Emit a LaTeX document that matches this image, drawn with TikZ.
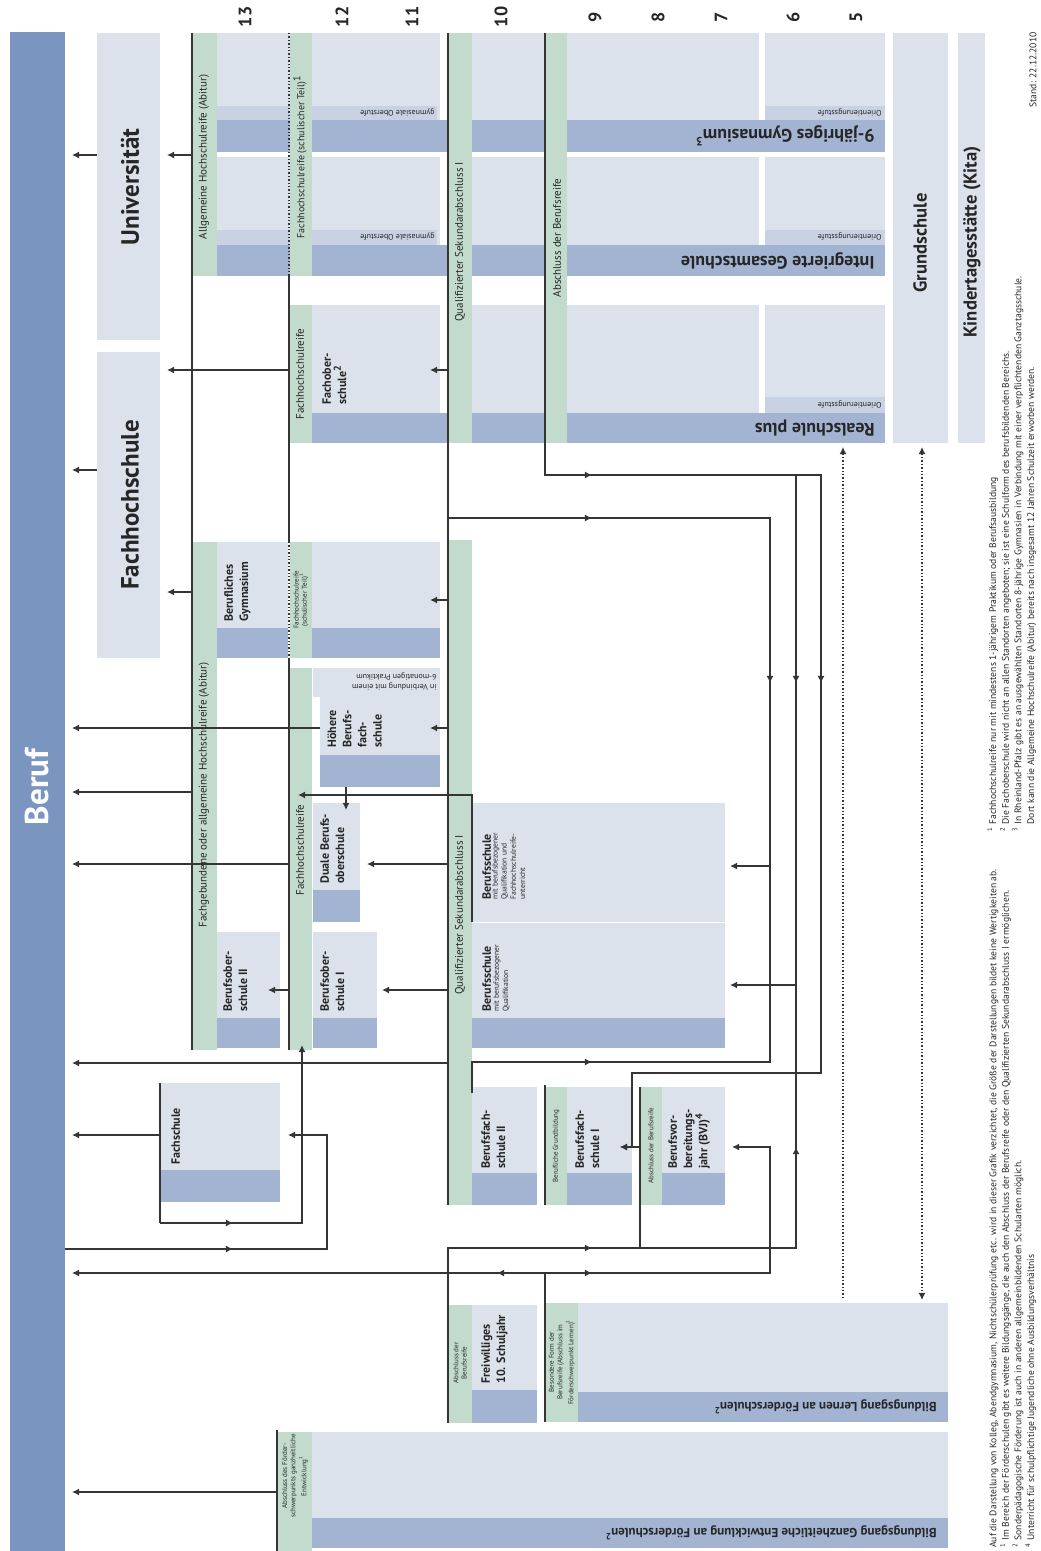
\documentclass[tikz,border=0pt]{standalone}
\usepackage{fontspec}
\setmainfont{PT Sans}
\usetikzlibrary{arrows.meta}

\definecolor{berufblue}{HTML}{7A96C0}
\definecolor{boxlight}{HTML}{DCE2EB}
\definecolor{boxdark}{HTML}{A3B4D2}
\definecolor{boxtab}{HTML}{C8D2E2}
\definecolor{stripgreen}{HTML}{C2DBCC}
\definecolor{linegray}{HTML}{353535}
\definecolor{textgray}{HTML}{262626}

\newcommand{\smalltxt}{\fontsize{3.8}{4.6}\selectfont\mdseries}

\tikzset{
  light/.style={fill=boxlight},
  dark/.style={fill=boxdark},
  tab/.style={fill=boxtab},
  strip/.style={fill=stripgreen},
  link/.style={draw=linegray, line width=0.7pt},
  arr/.style={link, -{Latex[length=3.6pt,width=3.6pt]}},
  dotlink/.style={draw=linegray, line width=0.7pt, densely dotted},
  big/.style={rotate=90, text=textgray, font=\fontsize{12.5}{14}\selectfont\bfseries},
  mid/.style={rotate=90, text=textgray, font=\fontsize{9.3}{11}\selectfont\bfseries},
  band/.style={rotate=180, anchor=west, inner sep=0pt, text=textgray, font=\fontsize{9}{11}\selectfont\bfseries},
  fband/.style={rotate=180, anchor=west, inner sep=0pt, text=textgray, font=\fontsize{6.5}{8}\selectfont\bfseries},
  stripl/.style={rotate=90, inner sep=0pt, text=textgray, font=\fontsize{5.5}{6.5}\selectfont},
  tinyl/.style={rotate=90, inner sep=0pt, align=center, text=textgray, font=\fontsize{3.5}{4.2}\selectfont},
  tabl/.style={rotate=180, anchor=west, inner sep=0pt, align=left, text=textgray, font=\fontsize{4}{5}\selectfont},
  boxl/.style={rotate=90, anchor=north west, inner sep=0pt, align=left, text=textgray, font=\fontsize{6}{7.6}\selectfont\bfseries},
  grade/.style={rotate=90, text=textgray, font=\fontsize{9}{10}\selectfont\bfseries},
  note/.style={rotate=90, anchor=north west, inner sep=0pt, align=left, text=textgray, font=\fontsize{4.8}{6.3}\selectfont},
}

\begin{document}
\begin{tikzpicture}[x=0.5pt, y=-0.5pt]

    % Page frame with the proportions of the chart
    \useasboundingbox (0,0) rectangle (1040,1551);
    \clip (0,0) rectangle (1040,1551);

    % Beruf bar along the left edge
    \fill[berufblue] (10,32) rectangle (65,1551);
    \node[rotate=90, text=white, font=\fontsize{16.5}{18}\selectfont\bfseries] (beruf) at (37,787) {Beruf};

    % Hochschulen
    \fill[light] (97,33) rectangle (160,340);
    \fill[light] (97,352) rectangle (160,658);
    \node[big] (uni) at (130,187) {Universität};
    \node[big] (fhs) at (130,505) {Fachhochschule};

    % Grade numbers along the top
    \foreach \g/\x in {13/245,12/342,11/412,10/501,9/595,8/658,7/721,6/793,5/856}
        \node[grade] (grade\g) at (\x,17) {\g};

    % Gymnasium and Integrierte Gesamtschule rows
    \foreach \ya/\yt/\yb/\ye in {33/106/120/152, 157/230/245/276}{
        \fill[light] (217,\ya) rectangle (440,\yb);
        \fill[tab] (217,\yt) rectangle (437,\yb);
        \fill[dark] (217,\yb) rectangle (447,\ye);
        \fill[light] (472,\ya) rectangle (545,\yb);
        \fill[dark] (472,\yb) rectangle (545,\ye);
        \fill[light] (567,\ya) rectangle (759,\yb);
        \fill[light] (765,\ya) rectangle (885,\yb);
        \fill[tab] (765,\yt) rectangle (885,\yb);
        \fill[dark] (567,\yb) rectangle (885,\ye);
    }

    % Realschule plus row with Fachoberschule
    \fill[light] (312,305) rectangle (440,413);
    \fill[dark] (312,413) rectangle (447,443);
    \fill[light] (472,305) rectangle (545,413);
    \fill[dark] (472,413) rectangle (545,443);
    \fill[light] (567,305) rectangle (759,413);
    \fill[light] (765,305) rectangle (885,413);
    \fill[tab] (765,397) rectangle (885,413);
    \fill[dark] (567,413) rectangle (885,443);

    % Green strips for the school leaving certificates (top part)
    \fill[strip] (193,33) rectangle (217,276);
    \fill[strip] (290,33) rectangle (312,276);
    \fill[strip] (290,305) rectangle (312,443);
    \fill[strip] (449,33) rectangle (472,443);
    \fill[strip] (546,33) rectangle (567,443);

    % Grundschule and Kita
    \fill[light] (893,33) rectangle (948,443);
    \fill[light] (958,33) rectangle (985,443);

    % Berufliches Gymnasium
    \fill[strip] (193,542) rectangle (217,1050);
    \fill[light] (217,542) rectangle (288,628);
    \fill[dark] (217,628) rectangle (288,658);
    \fill[strip] (290,542) rectangle (312,658);
    \fill[light] (312,542) rectangle (440,628);
    \fill[dark] (312,628) rectangle (440,658);
    \fill[strip] (290,668) rectangle (312,1050);

    % Hoehere Berufsfachschule
    \fill[light] (313,668) rectangle (440,697);
    \fill[light] (320,697) rectangle (440,755);
    \fill[dark] (320,755) rectangle (440,787);

    % Duale Berufsoberschule, Berufsoberschule II and I
    \fill[light] (313,803) rectangle (360,890);
    \fill[dark] (313,890) rectangle (360,922);
    \fill[light] (217,932) rectangle (280,1018);
    \fill[dark] (217,1018) rectangle (280,1048);
    \fill[light] (313,932) rectangle (377,1018);
    \fill[dark] (313,1018) rectangle (377,1048);

    % Berufsschule
    \fill[strip] (449,540) rectangle (472,1205);
    \fill[light] (472,803) rectangle (725,1018);
    \draw[white, line width=0.4pt] (472,922) -- (725,922);
    \fill[dark] (472,1018) rectangle (725,1048);

    % Fachschule
    \fill[light] (161,1083) rectangle (280,1170);
    \fill[dark] (161,1170) rectangle (280,1202);

    % Berufsfachschule II, I and BVJ
    \fill[light] (472,1087) rectangle (537,1173);
    \fill[dark] (472,1173) rectangle (537,1205);
    \fill[strip] (546,1087) rectangle (567,1205);
    \fill[light] (567,1087) rectangle (632,1173);
    \fill[dark] (567,1173) rectangle (632,1205);
    \fill[strip] (641,1087) rectangle (662,1205);
    \fill[light] (662,1087) rectangle (725,1173);
    \fill[dark] (662,1173) rectangle (725,1205);

    % Freiwilliges 10. Schuljahr
    \fill[strip] (449,1305) rectangle (472,1423);
    \fill[light] (472,1305) rectangle (537,1390);
    \fill[dark] (472,1390) rectangle (537,1423);

    % Foerderschulen
    \fill[strip] (546,1303) rectangle (578,1422);
    \fill[light] (578,1303) rectangle (948,1392);
    \fill[dark] (578,1392) rectangle (948,1422);
    \fill[strip] (278,1432) rectangle (312,1551);
    \fill[light] (312,1432) rectangle (948,1518);
    \fill[dark] (312,1518) rectangle (948,1548);

    % Coordinates of the lines
    \coordinate (berufE) at (72,0);
    \coordinate (abiT) at (192,33);
    \coordinate (abiB) at (192,1050);
    \coordinate (fhrT) at (289,33);
    \coordinate (fhrM1) at (289,276);
    \coordinate (fhrM2) at (289,542);
    \coordinate (fhrM3) at (289,658);
    \coordinate (fhrB) at (289,1050);
    \coordinate (sekT) at (448,33);
    \coordinate (sekB) at (448,1205);
    \coordinate (brT) at (545,33);
    \coordinate (brC) at (545,475);

    \coordinate (uniOut) at (97,155);
    \coordinate (uniIn) at (167,155);
    \coordinate (fhsOut) at (97,470);
    \coordinate (fhsIn1) at (167,370);
    \coordinate (fhsIn2) at (167,592);
    \coordinate (fosIn) at (430,370);
    \coordinate (bgymIn) at (430,600);
    \coordinate (hbfsIn) at (430,728);
    \coordinate (hbfsOut) at (320,728);
    \coordinate (hbfsDown) at (346,787);
    \coordinate (dbosIn) at (346,810);
    \coordinate (dbosIn2) at (367,864);
    \coordinate (abiOut) at (192,792);
    \coordinate (fhrOut) at (289,864);
    \coordinate (bos2In) at (268,990);
    \coordinate (bos1In) at (382,990);
    \coordinate (bsUp) at (472,922);
    \coordinate (bsCorner) at (472,795);
    \coordinate (fhrIn) at (298,795);
    \coordinate (bsIn1) at (730,866);
    \coordinate (bsIn2) at (730,985);

    \coordinate (m475) at (592,475);
    \coordinate (r475R) at (821,475);
    \coordinate (r475B) at (796,475);
    \coordinate (m821) at (821,683);
    \coordinate (r821B) at (821,1073);
    \coordinate (r632T) at (632,1073);
    \coordinate (r632B) at (632,1147);
    \coordinate (bfs1In) at (620,1147);
    \coordinate (m796a) at (796,683);
    \coordinate (m796b) at (796,1147);
    \coordinate (r796B) at (796,1248);
    \coordinate (fw1248) at (448,1248);
    \coordinate (m1248) at (592,1248);
    \coordinate (fwB) at (448,1423);

    \coordinate (s518) at (448,518);
    \coordinate (m518) at (592,518);
    \coordinate (r518R) at (770,518);
    \coordinate (m770) at (770,683);
    \coordinate (r770B) at (770,1062);
    \coordinate (m1062) at (592,1062);
    \coordinate (bfs2T) at (472,1062);
    \coordinate (bfs2B) at (472,1093);
    \coordinate (sekOut) at (448,1063);

    \coordinate (bvjT) at (640,1087);
    \coordinate (bvjB) at (640,1248);
    \coordinate (lernJ) at (545,1273);
    \coordinate (lernB) at (545,1422);
    \coordinate (m1273a) at (497,1273);
    \coordinate (m1273b) at (592,1273);
    \coordinate (r770L) at (770,1273);
    \coordinate (r770M) at (770,1147);
    \coordinate (bvjIn) at (732,1147);
    \coordinate (bfs1T) at (545,1085);
    \coordinate (bfs1B) at (545,1205);

    \coordinate (fsT) at (160,1083);
    \coordinate (fsC) at (160,1223);
    \coordinate (fsOut) at (160,1135);
    \coordinate (mfs) at (233,1223);
    \coordinate (fsUpB) at (302,1223);
    \coordinate (fsUpT) at (302,1045);
    \coordinate (berufFs) at (65,1249);
    \coordinate (mbf) at (233,1249);
    \coordinate (fsLoopB) at (327,1249);
    \coordinate (fsLoopT) at (327,1135);
    \coordinate (fsIn) at (288,1135);

    \coordinate (gzT) at (277,1430);
    \coordinate (gzB) at (277,1551);
    \coordinate (gzOut) at (277,1492);

    \coordinate (rsIn) at (843,447);
    \coordinate (rsB) at (843,1300);
    \coordinate (gsIn) at (922,447);
    \coordinate (lernIn) at (922,1300);

    % Vertical lines of the certificates
    \draw[link] (abiT) -- (abiB);
    \draw[dotlink] (fhrT) -- (fhrM1);
    \draw[link] (fhrM1) -- (fhrM2);
    \draw[dotlink] (fhrM2) -- (fhrM3);
    \draw[link] (fhrM3) -- (fhrB);
    \draw[link] (sekT) -- (sekB);

    % Arrows to Beruf and the Hochschulen
    \draw[arr] (uniOut) -- (berufE |- uniOut);
    \draw[arr] (abiT |- uniIn) -- (uniIn);
    \draw[arr] (fhsOut) -- (berufE |- fhsOut);
    \draw[arr] (fhrT |- fhsIn1) -- (fhsIn1);
    \draw[arr] (abiT |- fhsIn2) -- (fhsIn2);
    \draw[arr] (hbfsOut) -- (berufE |- hbfsOut);
    \draw[arr] (abiOut) -- (berufE |- abiOut);
    \draw[arr] (fhrOut) -- (berufE |- fhrOut);
    \draw[arr] (sekOut) -- (berufE |- sekOut);

    % Arrows into the upper school forms
    \draw[arr] (sekT |- fosIn) -- (fosIn);
    \draw[arr] (sekT |- bgymIn) -- (bgymIn);
    \draw[arr] (sekT |- hbfsIn) -- (hbfsIn);
    \draw[arr] (hbfsDown) -- (dbosIn);
    \draw[arr] (sekT |- dbosIn2) -- (dbosIn2);
    \draw[arr] (fhrT |- bos2In) -- (bos2In);
    \draw[arr] (sekT |- bos1In) -- (bos1In);
    \draw[arr] (bsUp) -- (bsCorner) -- (fhrIn);

    % Abschluss der Berufsreife routes
    \draw[arr] (brT) -- (brC) -- (r475R) -- (r821B) -- (r632T) -- (r632B) -- (bfs1In);
    \draw[arr] (brC) -- (m475);
    \draw[arr] (r475R) -- (m821);
    \draw[link] (r475B) -- (r796B) -- (fw1248) -- (fwB);
    \draw[arr] (r475B) -- (m796a);
    \draw[arr] (r796B) -- (m796b);
    \draw[arr] (fw1248) -- (m1248);
    \draw[arr] (r475B |- bsIn2) -- (bsIn2);

    % Qualifizierter Sekundarabschluss I routes
    \draw[link] (s518) -- (r518R) -- (r770B) -- (bfs2T) -- (bfs2B);
    \draw[arr] (s518) -- (m518);
    \draw[arr] (r518R) -- (m770);
    \draw[arr] (bfs2T) -- (m1062);
    \draw[arr] (r518R |- bsIn1) -- (bsIn1);

    % BVJ and Foerderschule routes
    \draw[link] (bvjT) -- (bvjB);
    \draw[arr] (bvjT |- bfs1In) -- (bfs1In);
    \draw[link] (bfs1T) -- (bfs1B);
    \draw[arr] (lernJ) -- (berufE |- lernJ);
    \draw[arr] (lernJ) -- (m1273a);
    \draw[arr] (lernJ) -- (r770L) -- (r770M) -- (bvjIn);
    \draw[arr] (lernJ) -- (m1273b);
    \draw[link] (lernJ) -- (lernB);
    \draw[link] (gzT) -- (gzB);
    \draw[arr] (gzOut) -- (berufE |- gzOut);

    % Fachschule routes
    \draw[link] (fsT) -- (fsC);
    \draw[arr] (fsOut) -- (berufE |- fsOut);
    \draw[arr] (fsC) -- (fsUpB) -- (fsUpT);
    \draw[arr] (fsC) -- (mfs);
    \draw[arr] (berufFs) -- (fsLoopB) -- (fsLoopT) -- (fsIn);
    \draw[arr] (berufFs) -- (mbf);

    % Dotted links from the Foerderschulen
    \draw[dotlink, {Latex[length=3.6pt,width=3.6pt]}-] (rsIn) -- (rsB);
    \draw[dotlink, {Latex[length=3.6pt,width=3.6pt]}-{Latex[length=3.6pt,width=3.6pt]}] (gsIn) -- (lernIn);

    % Labels of the green strips
    \node[stripl] (abiL) at (204,157) {Allgemeine Hochschulreife (Abitur)};
    \node[stripl, font=\fontsize{5}{6}\selectfont] (fhrsL) at (300,157) {Fachhochschulreife (schulischer Teil)\textsuperscript{1}};
    \node[stripl] (fhrL) at (300,374) {Fachhochschulreife};
    \node[stripl] (sekL) at (460,242) {Qualifizierter Sekundarabschluss I};
    \node[stripl] (brL) at (557,238) {Abschluss der Berufsreife};
    \node[stripl] (abi2L) at (204,795) {Fachgebundene oder allgemeine Hochschulreife (Abitur)};
    \node[stripl] (fhr2L) at (300,850) {Fachhochschulreife};
    \node[stripl] (sek2L) at (460,915) {Qualifizierter Sekundarabschluss I};
    \node[tinyl] (fhr3L) at (301,600) {Fachhochschulreife\\(schulischer Teil)\textsuperscript{1}};
    \node[tinyl] (bgL) at (556,1146) {Berufliche Grundbildung};
    \node[tinyl] (bvjL) at (651,1146) {Abschluss der Berufsreife};
    \node[tinyl] (fwL) at (460,1363) {Abschluss der\\Berufsreife};
    \node[tinyl] (lernL) at (562,1362) {Besondere Form der\\Berufsreife (Abschluss im\\Förderschwerpunkt Lernen)\textsuperscript{1}};
    \node[tinyl] (gzL) at (295,1476) {Abschluss des Förder-\\schwerpunkts ganzheitliche\\Entwicklung\textsuperscript{1}};

    % Labels of the school forms
    \node[band] (gymL) at (875,136) {9-jähriges Gymnasium\textsuperscript{3}};
    \node[band] (igsL) at (875,261) {Integrierte Gesamtschule};
    \node[band] (rsL) at (875,428) {Realschule plus};
    \node[fband] (lernB2) at (937,1407) {Bildungsgang Lernen an Förderschulen\textsuperscript{2}};
    \node[fband] (gzB2) at (937,1533) {Bildungsgang Ganzheitliche Entwicklung an Förderschulen\textsuperscript{2}};
    \node[tabl] (ob1) at (435,113) {gymnasiale Oberstufe};
    \node[tabl] (ob2) at (435,237) {gymnasiale Oberstufe};
    \node[tabl] (os1) at (882,113) {Orientierungsstufe};
    \node[tabl] (os2) at (882,237) {Orientierungsstufe};
    \node[tabl] (os3) at (882,404) {Orientierungsstufe};
    \node[tabl] (prakt) at (437,681) {in Verbindung mit einem\\6-monatigen Praktikum};
    \node[mid] (gs) at (920,243) {Grundschule};
    \node[mid] (kita) at (972,242) {Kindertagesstätte (Kita)};

    \node[boxl] (fos) at (322,405) {Fachober-\\schule\textsuperscript{2}};
    \node[boxl] (bgym) at (224,622) {Berufliches\\Gymnasium};
    \node[boxl] (hbfs) at (327,748) {Höhere\\Berufs-\\fach-\\schule};
    \node[boxl] (dbos) at (320,884) {Duale Berufs-\\oberschule};
    \node[boxl] (bos2) at (223,1012) {Berufsober-\\schule II};
    \node[boxl] (bos1) at (320,1012) {Berufsober-\\schule I};
    \node[boxl] (bs1) at (482,900) {Berufsschule\\[-1pt]\smalltxt\begin{tabular}{@{}l@{}}mit berufsbezogener\\Qualifikation und\\Fachhochschulreife-\\unterricht\end{tabular}};
    \node[boxl] (bs2) at (482,1012) {Berufsschule\\[-1pt]\smalltxt\begin{tabular}{@{}l@{}}mit berufsbezogener\\Qualifikation\end{tabular}};
    \node[boxl] (fs) at (171,1165) {Fachschule};
    \node[boxl] (bfs2) at (481,1169) {Berufsfach-\\schule II};
    \node[boxl] (bfs1) at (575,1169) {Berufsfach-\\schule I};
    \node[boxl] (bvj) at (668,1169) {Berufsvor-\\bereitungs-\\jahr (BVJ)\textsuperscript{4}};
    \node[boxl] (fw) at (481,1384) {Freiwilliges\\10. Schuljahr};

    % Footnotes
    \node[note] (notesL) at (989,1548) {Auf die Darstellung von Kolleg, Abendgymnasium, Nichtschülerprüfung etc. wird in dieser Grafik verzichtet, die Größe der Darstellungen bildet keine Wertigkeiten ab.\\
      \textsuperscript{1} Im Bereich der Förderschulen gibt es weitere Bildungsgänge, die auch den Abschluss der Berufsreife oder den Qualifizierten Sekundarabschluss I ermöglichen.\\
      \textsuperscript{2} Sonderpädagogische Förderung ist auch in anderen allgemeinbildenden Schularten möglich.\\
      \textsuperscript{4} Unterricht für schulpflichtige Jugendliche ohne Ausbildungsverhältnis};
    \node[note] (notesR) at (987,832) {\textsuperscript{1} Fachhochschulreife nur mit mindestens 1-jährigem Praktikum oder Berufsausbildung\\
      \textsuperscript{2} Die Fachoberschule wird nicht an allen Standorten angeboten; sie ist eine Schulform des berufsbildenden Bereichs.\\
      \textsuperscript{3} In Rheinland-Pfalz gibt es an ausgewählten Standorten 8-jährige Gymnasien in Verbindung mit einer verpflichtenden Ganztagsschule.\\
      \phantom{\textsuperscript{3} }Dort kann die Allgemeine Hochschulreife (Abitur) bereits nach insgesamt 12 Jahren Schulzeit erworben werden.};
    \node[rotate=90, anchor=east, inner sep=0pt, text=textgray, font=\fontsize{4.8}{5}\selectfont] (stand) at (1033,32) {Stand: 22.12.2010};

\end{tikzpicture}
\end{document}
